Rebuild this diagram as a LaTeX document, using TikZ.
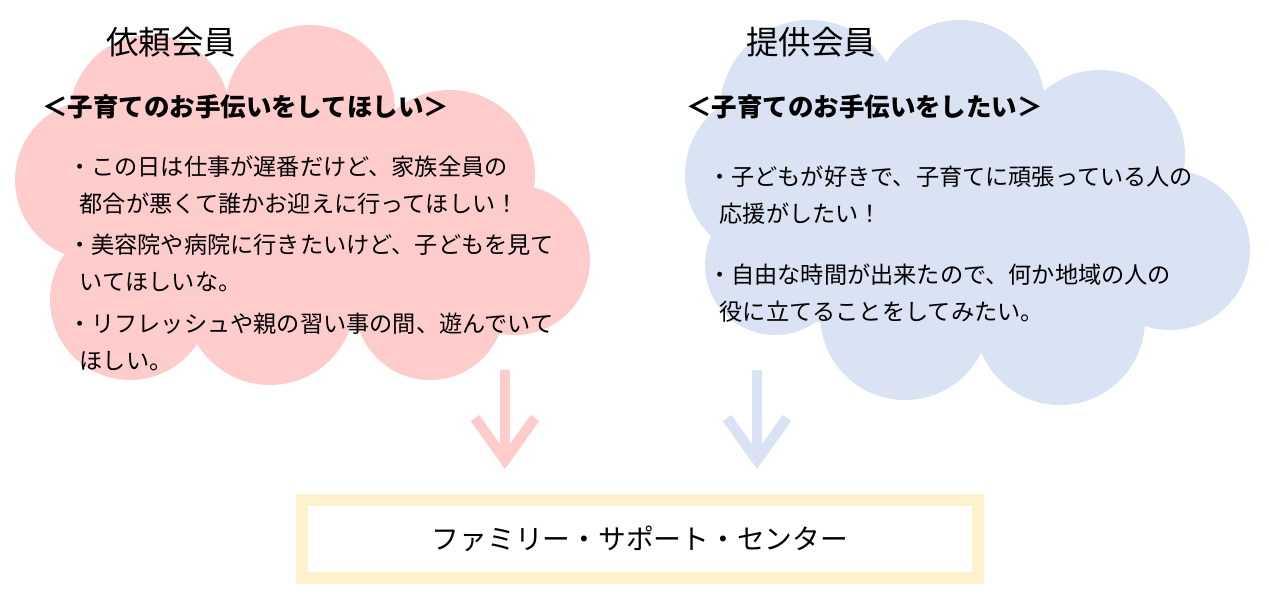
\documentclass[tikz,border=0pt]{standalone}
\usepackage{fontspec}
\setmainfont{Noto Sans CJK JP}
\usetikzlibrary{positioning}
\definecolor{pinkcloud}{RGB}{255,204,204}
\definecolor{bluecloud}{RGB}{218,227,243}
\definecolor{boxyellow}{RGB}{255,242,204}
\tikzset{
	title/.style={anchor=west, font=\fontsize{18.5}{20}\selectfont},
	motto/.style={anchor=west, font=\fontsize{14.5}{16}\selectfont\bfseries},
	item/.style={anchor=north west, align=left, font=\fontsize{13.2}{21}\selectfont},
	downarrow/.style={line width=6pt}
}
\newcommand{\cloud}[2]{
	\foreach \cx/\cy/\r in {#2}
		\fill[#1] (\cx,\cy) circle (\r);
}
\begin{document}
\begin{tikzpicture}[x=0.02cm,y=-0.02cm]
	\useasboundingbox (0,0) rectangle (1269,609);
	% clouds
	\cloud{pinkcloud}{150/115/80, 310/110/85, 450/175/85, 515/260/75, 430/305/75, 270/300/85, 130/300/80, 95/180/80, 300/210/120, 190/210/100, 400/230/110}
	\cloud{bluecloud}{810/110/90, 960/105/85, 1100/155/85, 1170/250/80, 1060/320/85, 905/315/85, 775/265/70, 770/175/85, 960/220/120, 860/220/110, 1070/230/110}
	% left side
	\node[title] (req) at (100,42) {依頼会員};
	\node[motto] (reqm) at (36,107) {＜子育てのお手伝いをしてほしい＞};
	\node[item] (r1) at (62,150) {・この日は仕事が遅番だけど、家族全員の\\\hspace{0.5em}都合が悪くて誰かお迎えに行ってほしい！};
	\node[item] (r2) at (62,228) {・美容院や病院に行きたいけど、子どもを見て\\\hspace{0.5em}いてほしいな。};
	\node[item] (r3) at (62,307) {・リフレッシュや親の習い事の間、遊んでいて\\\hspace{0.5em}ほしい。};
	% right side
	\node[title] (prv) at (740,42) {提供会員};
	\node[motto] (prvm) at (680,107) {＜子育てのお手伝いをしたい＞};
	\node[item] (p1) at (702,160) {・子どもが好きで、子育てに頑張っている人の\\\hspace{0.5em}応援がしたい！};
	\node[item] (p2) at (702,258) {・自由な時間が出来たので、何か地域の人の\\\hspace{0.5em}役に立てることをしてみたい。};
	% center box
	\node[draw=boxyellow, line width=7pt, minimum width=676*0.02cm, minimum height=78*0.02cm,
		font=\fontsize{15.8}{18}\selectfont] (fsc) at (640,539) {ファミリー・サポート・センター};
	% arrows
	\coordinate (la) at (505,370); \coordinate (lb) at (505,460);
	\draw[downarrow, pinkcloud] (la) -- (lb);
	\draw[downarrow, pinkcloud, line join=miter] (475,418) -- (lb) -- (535,418);
	\coordinate (ra) at (757,370); \coordinate (rb) at (757,460);
	\draw[downarrow, bluecloud] (ra) -- (rb);
	\draw[downarrow, bluecloud, line join=miter] (727,418) -- (rb) -- (787,418);
\end{tikzpicture}
\end{document}
